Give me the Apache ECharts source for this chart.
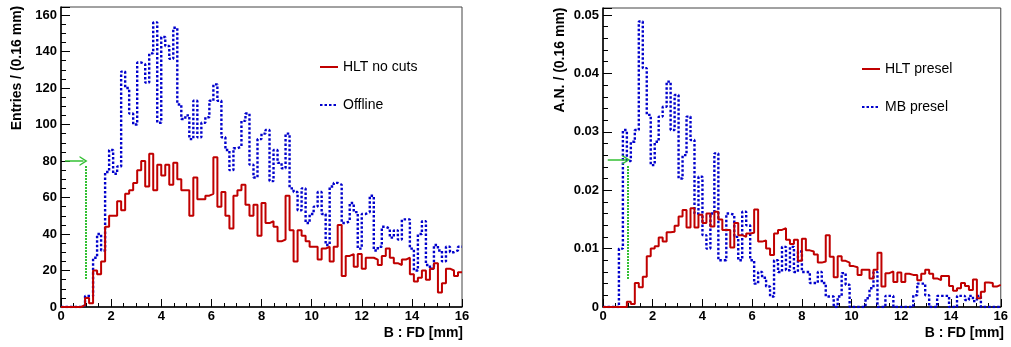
<!DOCTYPE html>
<html><head><meta charset="utf-8">
<script src="https://cdn.jsdelivr.net/npm/echarts@6/dist/echarts.min.js"></script>
<style>html,body{margin:0;padding:0;background:#fff}#c{width:1011px;height:347px}</style>
</head><body><div id="c"></div>
<script>
// ---- data ----
const binWidth = 0.16;
const xMin = 0, xMax = 16;
const xTickInterval = 2;
const leftYMax = 164.4, leftYInterval = 20;
const rightYMax = 0.0512, rightYInterval = 0.01;

const leftNames = ['HLT no cuts', 'Offline'];
const rightNames = ['HLT presel', 'MB presel'];
const leftYTitle = 'Entries / (0.16 mm)';
const rightYTitle = 'A.N. / (0.16 mm)';
const xTitle = 'B : FD [mm]';

// Left panel: HLT no cuts (entries per bin)
const leftRed = [0,0,0,0,0,1,5,2,20,18,
 25,44,50,50,58,53,62,64,68,75,
 80,66,84,64,78,72,78,67,79,70,
 64,64,50,71,59,59,61,62,82,55,
 63,50,43,61,64,67,56,50,56,39,
 57,46,47,44,36,37,61,42,25,42,
 39,36,33,33,26,32,33,25,33,45,
 17,28,29,22,29,21,27,27,26,23,
 28,32,27,24,23,26,27,18,14,16,
 20,15,21,24,8,13,21,20,17,19];
// Left panel: Offline
const leftBlue = [0,0,0,0,0,1,6,6,27,40,
 31,74,86,73,77,129,120,106,100,134,
 133,123,139,156,101,148,143,136,153,111,
 103,105,92,113,93,101,104,113,122,113,
 93,86,75,87,88,102,106,78,71,92,
 95,97,69,86,79,76,95,65,63,53,
 65,46,51,55,63,51,34,66,68,67,
 46,47,57,52,32,51,52,61,31,33,
 44,43,38,42,37,48,48,32,20,40,
 47,23,21,34,31,25,33,30,31,33];
// Right panel: HLT presel (A.N.)
const rightRed = [0,0,0,0,0,0,0.0009,0.0005,0.0041,0.0034,
 0.0052,0.0087,0.0100,0.0104,0.0119,0.0112,0.0128,0.0129,0.0139,0.0155,
 0.0166,0.0136,0.0169,0.0136,0.0158,0.0144,0.0160,0.0138,0.0163,0.0150,
 0.0132,0.0132,0.0102,0.0144,0.0123,0.0120,0.0126,0.0127,0.0167,0.0112,
 0.0114,0.0100,0.0089,0.0126,0.0132,0.0135,0.0115,0.0108,0.0115,0.0079,
 0.0117,0.0097,0.0095,0.0090,0.0076,0.0078,0.0123,0.0086,0.0051,0.0087,
 0.0079,0.0076,0.0070,0.0068,0.0055,0.0064,0.0064,0.0049,0.0064,0.0093,
 0.0035,0.0058,0.0061,0.0043,0.0059,0.0043,0.0057,0.0055,0.0055,0.0046,
 0.0057,0.0064,0.0057,0.0049,0.0046,0.0053,0.0053,0.0036,0.0028,0.0032,
 0.0041,0.0036,0.0029,0.0047,0.0015,0.0026,0.0042,0.0041,0.0035,0.0038];
// Right panel: MB presel
const rightBlue = [0,0,0,0,0.0100,0.0303,0.0250,0.0283,0.0303,0.0489,
 0.0409,0.0329,0.0243,0.0283,0.0326,0.0343,0.0386,0.0303,0.0363,0.0220,
 0.0260,0.0326,0.0286,0.0160,0.0223,0.0123,0.0100,0.0160,0.0263,0.0080,
 0.0080,0.0160,0.0158,0.0120,0.0080,0.0163,0.0140,0.0080,0.0040,0.0060,
 0.0050,0.0035,0.0018,0.0080,0.0060,0.0103,0.0063,0.0103,0.0060,0.0095,
 0.0060,0.0060,0.0041,0.0041,0.0060,0.0041,0.0018,0.0018,0,0.0018,
 0.0058,0.0038,0,0,0,0,0.0015,0.0032,0.0060,0,
 0,0.0019,0.0019,0,0,0,0,0,0.0020,0.0040,
 0.0040,0.0020,0,0,0.0019,0.0019,0.0019,0,0,0.0019,
 0.0019,0.0012,0.0019,0.0010,0.0019,0,0,0,0,0];

// Cut arrows (green): horizontal arrow + dotted vertical line
const leftArrow = {y: 80, x0: 0.16, x1: 0.9};
const leftCut = {x: 1.0, y0: 15.3, y1: 77.8};
const rightArrow = {y: 0.0252, x0: 0.19, x1: 0.93};
const rightCut = {x: 1.0, y0: 0.0048, y1: 0.0243};

// ---- chart ----
const FONT = '"Liberation Sans", Arial, Helvetica, sans-serif';
const RED = '#c00000', BLUE = '#0000cc', GREEN = '#33c033';
const chevron = 'path://M0,10 L5,0 L10,10 L8.4,10 L5,3.2 L1.6,10 Z';

function toSteps(vals) {
  const pts = vals.map((v, i) => [+(xMin + i * binWidth).toFixed(2), v]);
  pts.push([xMax, vals[vals.length - 1]]);
  return pts;
}
function xAxisCfg(gi) {
  return {type: 'value', gridIndex: gi, min: xMin, max: xMax, interval: xTickInterval,
    axisLine: {show: true, onZero: false, lineStyle: {color: '#000', width: 1.5}},
    axisTick: {show: true, inside: true, length: 8, lineStyle: {color: '#000', width: 1}},
    minorTick: {show: true, splitNumber: 4, length: 4, lineStyle: {color: '#000', width: 1}},
    splitLine: {show: false}, minorSplitLine: {show: false},
    axisLabel: {color: '#000', fontFamily: FONT, fontWeight: 'bold', fontSize: 13, margin: 3}};
}
function yAxisCfg(gi, max, interval, minorSplit) {
  return {type: 'value', gridIndex: gi, min: 0, max: max, interval: interval,
    axisLine: {show: true, onZero: false, lineStyle: {color: '#000', width: 1.5}},
    axisTick: {show: true, inside: true, length: 9, lineStyle: {color: '#000', width: 1}},
    minorTick: {show: true, splitNumber: minorSplit, length: 5, lineStyle: {color: '#000', width: 1}},
    splitLine: {show: false}, minorSplitLine: {show: false},
    axisLabel: {color: '#000', fontFamily: FONT, fontWeight: 'bold', fontSize: 13, margin: 4, showMaxLabel: false}};
}
function cutMarks(arrow, cut) {
  return {silent: true, animation: false, label: {show: false}, emphasis: {disabled: true},
    data: [
      [{coord: [arrow.x0, arrow.y], symbol: 'none', lineStyle: {color: GREEN, width: 1.5, type: 'solid'}},
       {coord: [arrow.x1, arrow.y], symbol: chevron, symbolSize: [10, 8], itemStyle: {color: GREEN}}],
      [{coord: [cut.x, cut.y0], symbol: 'none', lineStyle: {color: GREEN, width: 2, type: [2, 1]}},
       {coord: [cut.x, cut.y1], symbol: 'none'}]
    ]};
}
function histSeries(name, vals, gi, color, dotted, marks) {
  const s = {type: 'line', name: name, xAxisIndex: gi, yAxisIndex: gi, data: toSteps(vals), step: 'end',
    symbol: 'none', showSymbol: false, animation: false,
    lineStyle: {color: color, width: dotted ? 2.4 : 2, type: dotted ? [2.5, 2] : 'solid'}, itemStyle: {color: color},
    emphasis: {disabled: true}, z: dotted ? 2 : 3};
  if (marks) s.markLine = marks;
  return s;
}
function legendCfg(names, left, top) {
  return {data: names, orient: 'vertical', left: left, top: top, itemWidth: 18, itemHeight: 14, itemGap: 24,
    selectedMode: false, itemStyle: {opacity: 0},
    textStyle: {fontFamily: FONT, fontSize: 14, color: '#000'}};
}
function txt(x, y, text, align, rot) {
  return {type: 'text', x: x, y: y, rotation: rot || 0, silent: true,
    style: {text: text, font: 'bold 14px ' + FONT, fill: '#000', align: align, textAlign: align,
      verticalAlign: 'middle', textVerticalAlign: 'middle'}};
}

const chart = echarts.init(document.getElementById('c'), null, {renderer: 'canvas'});
chart.setOption({
  animation: false,
  backgroundColor: '#fff',
  grid: [
    {left: 61, top: 7, width: 401, height: 300, show: true, borderColor: '#444', borderWidth: 1, backgroundColor: 'transparent'},
    {left: 603, top: 8, width: 400, height: 299, show: true, borderColor: '#444', borderWidth: 1, backgroundColor: 'transparent'}
  ],
  xAxis: [xAxisCfg(0), xAxisCfg(1)],
  yAxis: [yAxisCfg(0, leftYMax, leftYInterval, 4), yAxisCfg(1, rightYMax, rightYInterval, 5)],
  legend: [legendCfg(leftNames, 314, 55), legendCfg(rightNames, 856, 57)],
  series: [
    histSeries(leftNames[1], leftBlue, 0, BLUE, true),
    histSeries(leftNames[0], leftRed, 0, RED, false, cutMarks(leftArrow, leftCut)),
    histSeries(rightNames[1], rightBlue, 1, BLUE, true),
    histSeries(rightNames[0], rightRed, 1, RED, false, cutMarks(rightArrow, rightCut))
  ],
  graphic: [
    txt(17, 68, leftYTitle, 'center', Math.PI / 2),
    txt(560, 60, rightYTitle, 'center', Math.PI / 2),
    txt(463, 333, xTitle, 'right'),
    txt(1004, 333, xTitle, 'right')
  ]
});
</script></body></html>
